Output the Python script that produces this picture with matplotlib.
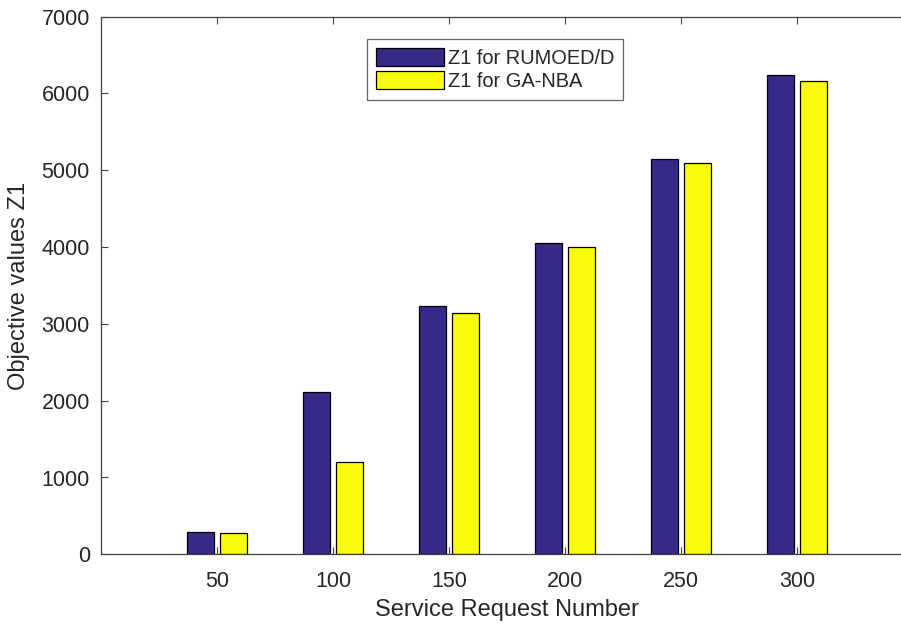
import matplotlib
matplotlib.use("Agg")
import matplotlib.pyplot as plt
import numpy as np

plt.rcParams['font.family'] = ['Liberation Sans', 'DejaVu Sans']

requests = [50, 100, 150, 200, 250, 300]
z1_rumoed = [292, 2112, 3235, 4052, 5146, 6238]
z1_ganba = [278, 1200, 3136, 3996, 5090, 6168]
series_labels = ['Z1 for RUMOED/D', 'Z1 for GA-NBA']

blue = '#352A87'
yellow = '#F9FB0E'
axis_gray = '#404040'
text_gray = '#262626'

fig = plt.figure(figsize=(9.01, 6.25), dpi=100)
ax = fig.add_axes([101 / 901, 70.7 / 625, 812 / 901, 537.6 / 625])

x = np.array(requests, dtype=float)
width = 11.6
offset = 7.2
b1 = ax.bar(x - offset, z1_rumoed, width, color=blue, edgecolor='black',
            linewidth=0.9, label=series_labels[0], zorder=2)
b2 = ax.bar(x + offset, z1_ganba, width, color=yellow, edgecolor='black',
            linewidth=0.9, label=series_labels[1], zorder=2)

ax.set_xlim(0, 350)
ax.set_ylim(0, 7000)
ax.set_xticks(requests)
ax.set_yticks(np.arange(0, 7001, 1000))
ax.tick_params(axis='both', direction='in', length=5, width=0.8,
               color=axis_gray, labelcolor=text_gray, labelsize=15.5,
               top=True, right=True)
ax.tick_params(axis='y', pad=8)
ax.tick_params(axis='x', pad=12)
for s in ax.spines.values():
    s.set_color(axis_gray)
    s.set_linewidth(0.9)

ax.set_xlabel('Service Request Number', fontsize=17, color=text_gray, labelpad=5)
ax.set_ylabel('Objective values Z1', fontsize=17, color=text_gray, labelpad=8)

leg = fig.legend(handles=[b1, b2], loc='upper left',
                 bbox_to_anchor=(367 / 901, 1 - 39 / 625),
                 fontsize=14.4, handlelength=3.4, handleheight=1.0,
                 labelspacing=0.18, handletextpad=0.2, borderpad=0.45,
                 borderaxespad=0, fancybox=False, frameon=True)
leg.get_frame().set_edgecolor(axis_gray)
leg.get_frame().set_linewidth(0.9)
for t in leg.get_texts():
    t.set_color(text_gray)

fig.savefig('out.png', dpi=100)
